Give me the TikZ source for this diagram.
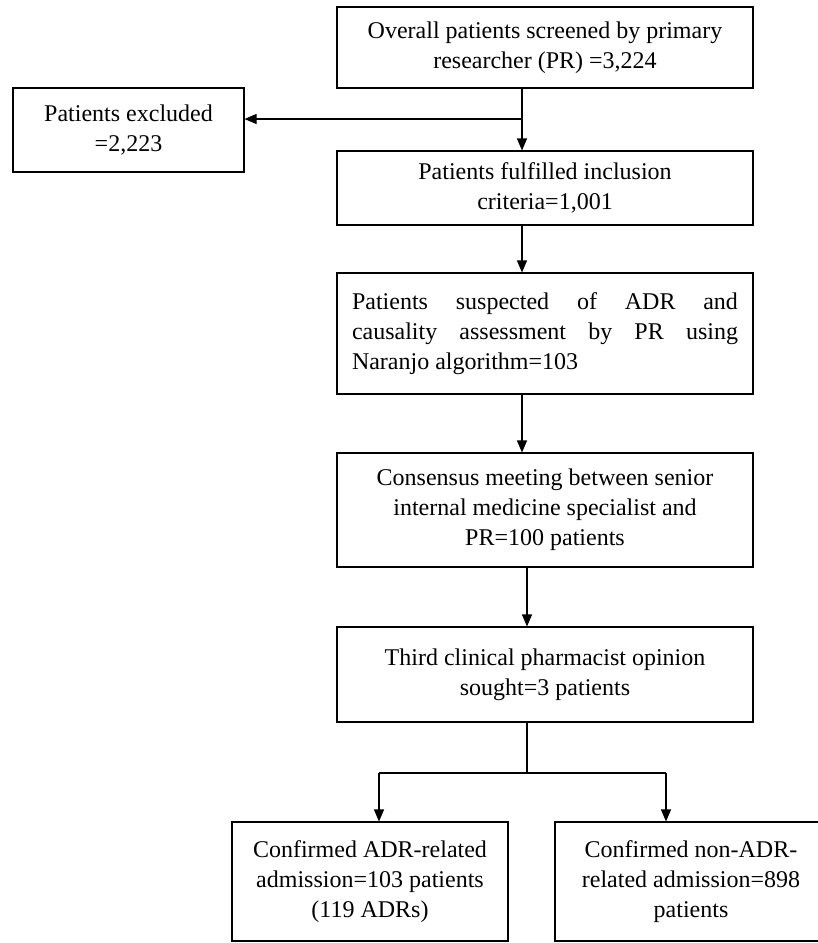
\documentclass[tikz,border=0pt]{standalone}
\usepackage{fontspec}
\setmainfont{Liberation Serif}
\usetikzlibrary{arrows.meta}
\newcommand{\boxfont}{\fontsize{24}{30}\selectfont}
\tikzset{
  box/.style={draw, line width=1.1pt, align=center, inner sep=0pt, font=\boxfont},
  >={Triangle[length=12pt,width=10pt]}
}

\begin{document}
\begin{tikzpicture}[x=1pt,y=-1pt,line width=1.1pt]
  \useasboundingbox (0,0) rectangle (818,943);
  \clip (0,0) rectangle (818,943);

  \node at (545,47.5) [box, minimum width=416pt, minimum height=81pt] (1) {Overall patients screened by primary\\researcher (PR) =3,224};
  \node at (128.5,130) [box, minimum width=231pt, minimum height=84pt] (ex) {Patients excluded\\=2,223};

  \node at (545,188) [box, minimum width=416pt, minimum height=74pt] (2) {Patients fulfilled inclusion\\criteria=1,001};
  \node at (545,333.5) [box, minimum width=416pt, minimum height=121pt, text width=386pt, align=justify] (3) {Patients suspected of ADR and\linebreak causality assessment by PR using\linebreak Naranjo algorithm=103};
  \node at (545,510) [box, minimum width=416pt, minimum height=114pt] (4) {Consensus meeting between senior\\internal medicine specialist and\\PR=100 patients};
  \node at (545,674.5) [box, minimum width=416pt, minimum height=95pt] (5) {Third clinical pharmacist opinion\\sought=3 patients};

  \node at (370,881.5) [box, minimum width=276pt, minimum height=119pt] (61) {Confirmed ADR-related\\admission=103 patients\\(119 ADRs)};
  \node at (691,881.5) [box, minimum width=272pt, minimum height=119pt] (62) {Confirmed non-ADR-\\related admission=898\\patients};

  \coordinate (s1) at (522,119);
  \coordinate (s2) at (527,773);
  \coordinate (l) at (379,773);
  \coordinate (r) at (666,773);

  \draw[->] (1.south -| s1) -- (2.north -| s1);
  \draw[->] (s1) -- (s1 -| ex.east);
  \draw[->] (2.south -| s1) -- (3.north -| s1);
  \draw[->] (3.south -| s1) -- (4.north -| s1);
  \draw[->] (4.south -| s2) -- (5.north -| s2);
  \draw (5.south -| s2) -- (s2);
  \draw (l) -- (r);
  \draw[->] (l) -- (l |- 61.north);
  \draw[->] (r) -- (r |- 62.north);
\end{tikzpicture}
\end{document}
